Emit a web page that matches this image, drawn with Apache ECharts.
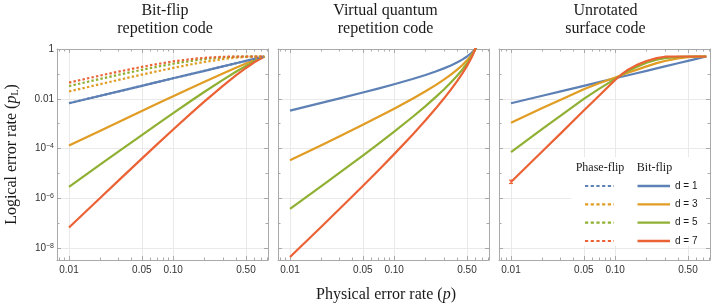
<!DOCTYPE html>
<html><head><meta charset="utf-8">
<script src="https://cdn.jsdelivr.net/npm/echarts@6/dist/echarts.min.js"></script>
<style>html,body{margin:0;padding:0;background:#fff}#c{width:714px;height:308px}</style>
</head><body><div id="c"></div>
<script>
// ---------------- data ----------------
const colors = ['#5E81B5', '#E19C24', '#8FB032', '#EB6235'];
const distanceLabels = ['d = 1', 'd = 3', 'd = 5', 'd = 7'];
const panelTitles = ['Bit-flip\nrepetition code', 'Virtual quantum\nrepetition code', 'Unrotated\nsurface code'];

const xMajorTicks = [0.01, 0.05, 0.1, 0.5];
const xMajorLabels = ['0.01', '0.05', '0.10', '0.50'];
const xMinorTicks = [0.008, 0.009, 0.02, 0.03, 0.04, 0.06, 0.07, 0.08, 0.09, 0.2, 0.3, 0.4, 0.6, 0.7, 0.8];
const yMajorTicks = [1e-8, 1e-6, 1e-4, 0.01, 1];
const yMajorLabels = ['10{s|\u22128}', '10{s|\u22126}', '10{s|\u22124}', '0.01', '1'];
const yMinorTicks = [1e-7, 1e-5, 1e-3, 0.1];

// Panel 1: bit-flip repetition code
const pRep = [0.01, 0.02, 0.03, 0.05, 0.07, 0.1, 0.15, 0.2, 0.3, 0.4, 0.5, 0.6, 0.75];
const repBitD1 = [0.00667, 0.0133, 0.02, 0.0333, 0.0467, 0.0667, 0.1, 0.133, 0.2, 0.267, 0.333, 0.4, 0.5];
const repBitD3 = [1.327e-4, 5.286e-4, 1.184e-3, 3.259e-3, 6.33e-3, 1.274e-2, 0.028, 0.0486, 0.104, 0.1754, 0.2593, 0.352, 0.5];
const repBitD5 = [2.933e-6, 2.323e-5, 7.762e-5, 3.521e-4, 9.463e-4, 2.675e-3, 8.56e-3, 0.01922, 0.05792, 0.1219, 0.2099, 0.3174, 0.5];
const repBitD7 = [6.80e-8, 1.071e-6, 5.336e-6, 3.985e-5, 1.481e-4, 5.868e-4, 2.728e-3, 7.90e-3, 0.03334, 0.0870, 0.1733, 0.2898, 0.5];
const repPhaseD1 = [0.00667, 0.0133, 0.02, 0.0333, 0.0467, 0.0667, 0.1, 0.133, 0.2, 0.267, 0.333, 0.4, 0.5];
const repPhaseD3 = [0.01974, 0.03894, 0.05763, 0.09348, 0.1273, 0.1745, 0.244, 0.3028, 0.392, 0.4492, 0.4815, 0.496, 0.5];
const repPhaseD5 = [0.03246, 0.0632, 0.09231, 0.1459, 0.1937, 0.2555, 0.3362, 0.394, 0.4611, 0.4889, 0.4979, 0.4998, 0.5];
const repPhaseD7 = [0.04484, 0.0862, 0.1243, 0.1915, 0.2482, 0.3164, 0.3951, 0.443, 0.486, 0.4976, 0.4997, 0.5, 0.5];

// Panel 2: virtual quantum repetition code
const pVirt = [0.01, 0.02, 0.03, 0.05, 0.07, 0.1, 0.15, 0.2, 0.25, 0.3, 0.35, 0.4, 0.45, 0.5, 0.55, 0.575, 0.6, 0.62];
const virtD1 = [0.003378, 0.006849, 0.01042, 0.01786, 0.02574, 0.03846, 0.0625, 0.09091, 0.125, 0.1667, 0.2188, 0.2857, 0.375, 0.5, 0.6875, 0.8214, 1, 1.192];
const virtD3 = [3.394e-5, 1.382e-4, 3.168e-4, 9.134e-4, 1.860e-3, 4.030e-3, 0.01007, 0.02007, 0.03551, 0.05864, 0.09299, 0.1444, 0.2233, 0.35, 0.5691, 0.7443, 1, 1.302];
const virtD5 = [3.798e-7, 3.116e-6, 1.079e-5, 5.259e-5, 1.521e-4, 4.805e-4, 1.864e-3, 5.114e-3, 0.01167, 0.02382, 0.04534, 0.08273, 0.148, 0.2656, 0.4932, 0.6911, 1, 1.391];
const virtD7 = [4.462e-9, 7.374e-8, 3.856e-7, 3.178e-6, 1.305e-5, 6.019e-5, 3.629e-4, 1.375e-3, 4.056e-3, 0.01025, 0.02343, 0.05012, 0.1031, 0.2096, 0.4373, 0.6496, 1, 1.470];

// Panel 3: unrotated surface code
const pSurf = [0.01, 0.02, 0.03, 0.05, 0.07, 0.1, 0.115, 0.13, 0.16, 0.2, 0.25, 0.3, 0.4, 0.5, 0.6, 0.75];
const surfD1 = [0.00667, 0.0133, 0.02, 0.0333, 0.0467, 0.0667, 0.0767, 0.0867, 0.1067, 0.133, 0.167, 0.2, 0.267, 0.333, 0.4, 0.5];
const surfD3 = [1.1e-3, 4.3e-3, 9.2e-3, 0.024, 0.042, 0.072, 0.089, 0.108, 0.145, 0.2, 0.27, 0.33, 0.42, 0.47, 0.49, 0.5];
const surfD5 = [7.3e-5, 6.2e-4, 2.1e-3, 0.0100, 0.025, 0.063, 0.092, 0.125, 0.19, 0.28, 0.37, 0.43, 0.48, 0.5, 0.5, 0.5];
const surfD7 = [4.6e-6, 7.8e-5, 4.1e-4, 3.4e-3, 0.0133, 0.0575, 0.095, 0.14, 0.225, 0.33, 0.43, 0.49, 0.5, 0.5, 0.5, 0.5];
const surfErrP = [0.01];
const surfErrLow = [4.0e-6];
const surfErrHigh = [5.4e-6];

// ---------------- layout / style ----------------
const X_MIN = 0.00767, X_MAX = 0.813, Y_MIN = 3.39e-9, Y_MAX = 1;
const gridLefts = [57, 278, 499];
const GRID_TOP = 49, GRID_W = 211, GRID_H = 211;
const frameCol = '#a9a9a9', gridCol = '#e9e9e9', tickTextCol = '#333';
const sans = 'Liberation Sans, Arial, sans-serif';
const serif = 'Liberation Serif, Times New Roman, serif';

function nearestIndex(list, v) {
  let best = 0, bd = Infinity;
  list.forEach((t, i) => { const d = Math.abs(Math.log10(t) - Math.log10(v)); if (d < bd) { bd = d; best = i; } });
  return best;
}

const grid = gridLefts.map(l => ({ left: l, top: GRID_TOP, width: GRID_W, height: GRID_H, outerBoundsMode: 'none' }));
const xAxis = [], yAxis = [];
function axisBase(g, min, max, position, ticks, len, opts) {
  return Object.assign({
    gridIndex: g, type: 'log', logBase: 10, min, max, position,
    axisLine: { show: false, onZero: false },
    axisTick: { show: true, inside: true, length: len, customValues: ticks, lineStyle: { color: frameCol, width: 1 } },
    axisLabel: { show: false },
    splitLine: { show: false },
    minorTick: { show: false }, minorSplitLine: { show: false },
    silent: true
  }, opts || {});
}
for (let g = 0; g < 3; g++) {
  xAxis.push(axisBase(g, X_MIN, X_MAX, 'bottom', xMajorTicks, 4, {
    axisLine: { show: true, onZero: false, lineStyle: { color: frameCol, width: 1 } },
    axisLabel: { show: true, customValues: xMajorTicks, margin: 5, color: tickTextCol, fontSize: 10, fontFamily: sans,
      formatter: v => xMajorLabels[nearestIndex(xMajorTicks, v)] },
    splitLine: { show: true, lineStyle: { color: gridCol, width: 1 } }
  }));
  xAxis.push(axisBase(g, X_MIN, X_MAX, 'bottom', xMinorTicks, 2.5));
  xAxis.push(axisBase(g, X_MIN, X_MAX, 'top', xMajorTicks, 4, {
    axisLine: { show: true, onZero: false, lineStyle: { color: frameCol, width: 1 } } }));
  xAxis.push(axisBase(g, X_MIN, X_MAX, 'top', xMinorTicks, 2.5));

  yAxis.push(axisBase(g, Y_MIN, Y_MAX, 'left', yMajorTicks, 4, {
    axisLine: { show: true, onZero: false, lineStyle: { color: frameCol, width: 1 } },
    axisLabel: { show: g === 0, customValues: yMajorTicks, margin: 3, color: tickTextCol, fontSize: 10, fontFamily: sans,
      formatter: v => yMajorLabels[nearestIndex(yMajorTicks, v)],
      rich: { s: { fontSize: 7, fontFamily: sans, color: tickTextCol, verticalAlign: 'top', padding: [0, 0, 5, 0] } } },
    splitLine: { show: true, lineStyle: { color: gridCol, width: 1 } }
  }));
  yAxis.push(axisBase(g, Y_MIN, Y_MAX, 'left', yMinorTicks, 2.5));
  yAxis.push(axisBase(g, Y_MIN, Y_MAX, 'right', yMajorTicks, 4, {
    axisLine: { show: true, onZero: false, lineStyle: { color: frameCol, width: 1 } } }));
  yAxis.push(axisBase(g, Y_MIN, Y_MAX, 'right', yMinorTicks, 2.5));
}

const series = [];
function addLine(g, name, ps, vs, color, dashed) {
  series.push({
    type: 'line', name, xAxisIndex: g * 4, yAxisIndex: g * 4,
    data: ps.map((p, i) => [p, vs[i]]),
    showSymbol: false, symbol: 'none', clip: true, silent: true, animation: false, smooth: false,
    lineStyle: { color, width: 2.2, type: dashed ? [2.4, 2.2] : 'solid', cap: 'butt', join: 'round' },
    itemStyle: { color }, z: dashed ? 3 : 2, emphasis: { disabled: true }
  });
}
const repBit = [repBitD1, repBitD3, repBitD5, repBitD7];
const repPhase = [repPhaseD1, repPhaseD3, repPhaseD5, repPhaseD7];
const virt = [virtD1, virtD3, virtD5, virtD7];
const surf = [surfD1, surfD3, surfD5, surfD7];
for (let k = 0; k < 4; k++) addLine(0, 'Bit-flip ' + distanceLabels[k], pRep, repBit[k], colors[k], false);
for (let k = 0; k < 4; k++) addLine(0, 'Phase-flip ' + distanceLabels[k], pRep, repPhase[k], colors[k], true);
for (let k = 0; k < 4; k++) addLine(1, 'Bit-flip ' + distanceLabels[k], pVirt, virt[k], colors[k], false);
for (let k = 0; k < 4; k++) addLine(2, 'Bit-flip ' + distanceLabels[k], pSurf, surf[k], colors[k], false);

series.push({
  type: 'custom', name: 'error bars d = 7', xAxisIndex: 8, yAxisIndex: 8, silent: true, animation: false, z: 4,
  data: surfErrP.map((p, i) => [p, surfErrLow[i], surfErrHigh[i]]),
  renderItem: (params, api) => {
    const lo = api.coord([api.value(0), api.value(1)]);
    const hi = api.coord([api.value(0), api.value(2)]);
    const st = { stroke: colors[3], lineWidth: 1.2 };
    return { type: 'group', children: [
      { type: 'line', shape: { x1: lo[0], y1: lo[1], x2: hi[0], y2: hi[1] }, style: st },
      { type: 'line', shape: { x1: lo[0] - 2, y1: lo[1], x2: lo[0] + 2, y2: lo[1] }, style: st },
      { type: 'line', shape: { x1: hi[0] - 2, y1: hi[1], x2: hi[0] + 2, y2: hi[1] }, style: st }
    ] };
  }
});

// ---------------- text & legend graphics ----------------
const titleCenters = [165, 385.5, 605.5];
const graphic = [];
panelTitles.forEach((t, i) => graphic.push({
  type: 'text', x: titleCenters[i], y: 1.5, silent: true,
  style: { text: t, fill: '#1a1a1a', font: '16px ' + serif, align: 'center', verticalAlign: 'top', lineHeight: 18 }
}));
graphic.push({
  type: 'text', x: 12, y: 154.5, rotation: Math.PI / 2, silent: true,
  style: { text: 'Logical error rate ({i|p}{sub|L})', fill: '#1a1a1a', fontSize: 16, fontFamily: serif, align: 'center', verticalAlign: 'middle',
    rich: { i: { fontSize: 16, fontFamily: serif, fontStyle: 'italic', fill: '#1a1a1a' }, sub: { fontSize: 10, fontFamily: serif, fill: '#1a1a1a', verticalAlign: 'bottom', padding: [6, 0, 0, 0] } } }
});
graphic.push({
  type: 'text', x: 386, y: 295, silent: true,
  style: { text: 'Physical error rate ({i|p})', fill: '#1a1a1a', fontSize: 16, fontFamily: serif, align: 'center', verticalAlign: 'middle',
    rich: { i: { fontSize: 16, fontFamily: serif, fontStyle: 'italic', fill: '#1a1a1a' } } }
});
// legend
const legendRows = [186, 204.3, 222.7, 241];
graphic.push({ type: 'rect', shape: { x: 571, y: 157, width: 135, height: 89 }, style: { fill: '#fff' }, z: 50, silent: true });
graphic.push({ type: 'text', x: 600, y: 168, z: 51, silent: true, style: { text: 'Phase-flip', font: '12px ' + serif, fill: '#1a1a1a', align: 'center', verticalAlign: 'middle' } });
graphic.push({ type: 'text', x: 654.5, y: 168, z: 51, silent: true, style: { text: 'Bit-flip', font: '12px ' + serif, fill: '#1a1a1a', align: 'center', verticalAlign: 'middle' } });
legendRows.forEach((y, k) => {
  graphic.push({ type: 'line', z: 51, silent: true, shape: { x1: 585, y1: y, x2: 614, y2: y }, style: { stroke: colors[k], lineWidth: 2.2, lineDash: [3.2, 2.5] } });
  graphic.push({ type: 'line', z: 51, silent: true, shape: { x1: 637.5, y1: y, x2: 670, y2: y }, style: { stroke: colors[k], lineWidth: 2.3 } });
  graphic.push({ type: 'text', x: 675, y: y, z: 51, silent: true, style: { text: distanceLabels[k], font: '10px ' + sans, fill: '#1a1a1a', align: 'left', verticalAlign: 'middle' } });
});

const chart = echarts.init(document.getElementById('c'), null, { renderer: 'canvas' });
chart.setOption({ animation: false, backgroundColor: '#fff', grid, xAxis, yAxis, series, graphic });
</script></body></html>
